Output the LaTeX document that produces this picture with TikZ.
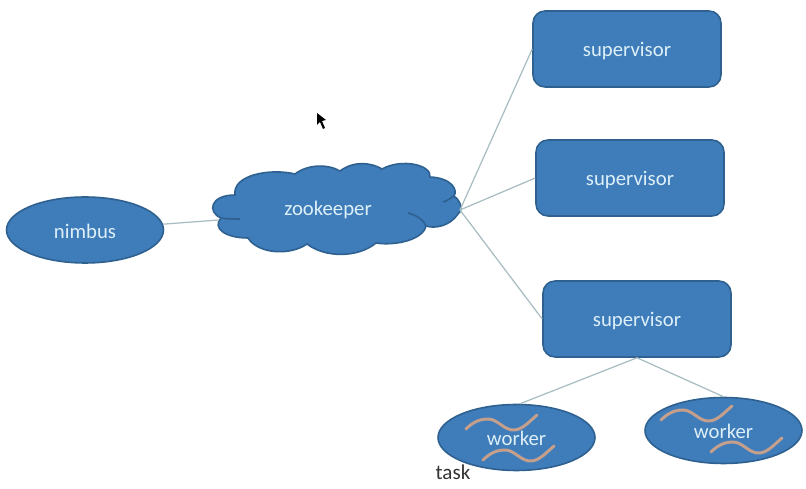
\documentclass[tikz,border=0pt]{standalone}
\usepackage{fontspec}
\setmainfont{Carlito}
\usetikzlibrary{shapes.geometric}
\definecolor{shapeblue}{HTML}{3F7CBA}
\definecolor{shapeedge}{HTML}{2E6090}
\definecolor{shapetext}{HTML}{DDF0F8}
\definecolor{linkgray}{HTML}{A8BDC2}
\definecolor{wavetan}{HTML}{C49F8C}
\tikzset{
	labeltext/.style={text=shapetext, text height=10.4pt, text depth=2.2pt, font=\fontsize{11.8}{14}\selectfont},
	boxnode/.style={labeltext, draw=shapeedge, fill=shapeblue, line width=0.9pt, rounded corners=0.24cm, minimum width=3.76cm, minimum height=1.52cm, inner sep=0pt},
	ellnode/.style={labeltext, text height=11.8pt, draw=shapeedge, fill=shapeblue, line width=0.9pt, ellipse, minimum width=3.14cm, minimum height=1.32cm, inner sep=0pt},
	cloudline/.style={draw=shapeedge, line width=0.9pt},
	link/.style={color=linkgray, line width=0.7pt}
}
\def\taskwave(#1,#2){
	\draw[color=wavetan, line width=1.7pt, line cap=round, shift={(#1,#2)}] (0,0) .. controls (7,-7) and (14,-10) .. (22,-10) .. controls (32,-10) and (38,2) .. (49,1) .. controls (57,0) and (64,-8) .. (71,-14);
}
\begin{document}
\begin{tikzpicture}[x=0.02cm, y=-0.02cm]
	%%%%% START %%%%%
	\useasboundingbox[fill=white] (0, 0) rectangle (806, 489);

	\node[ellnode] (nimbus) at (85, 230) {nimbus};

	\draw[cloudline, fill=shapeblue] (221, 218) .. controls (207, 212) and (210, 195) .. (235, 195)
		.. controls (232, 175) and (270, 168) .. (295, 174)
		.. controls (308, 164) and (328, 164) .. (340, 171)
		.. controls (355, 160) and (372, 163) .. (382, 169)
		.. controls (402, 158) and (432, 165) .. (430, 177)
		.. controls (452, 178) and (458, 190) .. (454, 196)
		.. controls (463, 203) and (462, 212) .. (458, 214)
		.. controls (450, 226) and (435, 229) .. (426, 226)
		.. controls (423, 240) and (395, 246) .. (376, 243)
		.. controls (358, 258) and (325, 258) .. (307, 244)
		.. controls (290, 256) and (258, 254) .. (248, 238)
		.. controls (225, 238) and (212, 228) .. (221, 218) -- cycle;
	\draw[cloudline] (221, 218) .. controls (226, 219) and (233, 219) .. (240, 219);
	\draw[cloudline] (408, 213) .. controls (416, 215) and (424, 220) .. (426, 226);
	\draw[cloudline] (443, 202) .. controls (447, 201) and (451, 198) .. (454, 196);
	\node[labeltext] (zookeeper) at (328, 208) {zookeeper};
	\coordinate (zkwest) at (219, 220);
	\coordinate (zkeast) at (460, 210);

	\node[boxnode] (super1) at (627, 49) {supervisor};
	\node[boxnode] (super2) at (630, 178) {supervisor};
	\node[boxnode] (super3) at (637, 319) {supervisor};

	\node[ellnode] (worker1) at (516.5, 437.5) {worker};
	\node[ellnode] (worker2) at (723.5, 430.5) {worker};
	\node[font=\fontsize{12}{14}\selectfont, text=black!80] (task) at (453, 472) {task};

	\draw[link] (nimbus) -- (zkwest);
	\draw[link] (zkeast) -- (super1.west);
	\draw[link] (zkeast) -- (super2.west);
	\draw[link] (zkeast) -- (super3.west);
	\draw[link] (super3.south) -- (worker1.84);
	\draw[link] (super3.south) -- (worker2.north);

	\taskwave(466, 429)
	\taskwave(483, 460)
	\taskwave(661, 420)
	\taskwave(711, 452)

	\fill[black] (317, 113) -- (317, 125) -- (320, 122) -- (323, 129) -- (325, 128) -- (322, 121) -- (326, 120) -- cycle;
	%%%%% END %%%%%
\end{tikzpicture}
\end{document}
